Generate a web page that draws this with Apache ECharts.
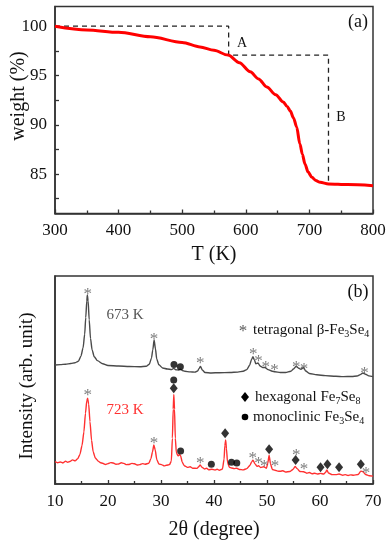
<!DOCTYPE html>
<html>
<head>
<meta charset="utf-8">
<script src="https://cdn.jsdelivr.net/npm/echarts@6/dist/echarts.min.js"></script>
<style>html,body{margin:0;padding:0;background:#fff}#c{width:392px;height:550px}</style>
</head>
<body>
<div id="c"></div>
<script>
// ---------- Panel (a): TGA ----------
const tgaT = [300,350,400,450,500,528,550,572,590,607,620,633,647,659,665,670,675,680,685,689,693,698,704,710,717,730,760,800];
const tgaW = [100.0,99.62,99.38,98.92,98.35,97.9,97.55,97.07,96.3,95.37,94.65,93.84,93.05,92.3,91.85,91.4,90.7,89.77,88.07,87.0,86.03,85.2,84.67,84.35,84.16,84.0,83.93,83.82];
const guideT = [300,573,573,730,730];
const guideW = [100,100,97.07,97.07,84.0];
const tgaXTicks = [300,400,500,600,700,800];
const tgaYLabels = [85,90,95,100];
const tgaYTicks = [82.5,85,87.5,90,92.5,95,97.5,100];

// ---------- Panel (b): XRD ----------
const xrd673Angle = [10,11,12,13,13.8,14.4,14.9,15.3,15.6,15.8,16.0,16.1,16.25,16.45,16.7,17.0,17.4,18.0,19,20,22,24,26,27.2,27.8,28.2,28.45,28.7,28.95,29.2,29.6,30.3,31.2,32.0,32.4,32.8,33.3,33.65,34.0,34.5,35.5,36.4,36.9,37.2,37.45,37.8,38.3,39.5,41,43,44.5,45.5,46.2,46.7,47.1,47.35,47.6,47.9,48.3,48.7,49.2,49.6,50.2,51.0,51.5,52.5,53.5,54.5,55.0,55.5,55.9,56.4,56.9,57.3,58.0,59.4,61,63,64.4,66,67.0,67.6,68.1,68.6,69.2,70];
const xrd673Int   = [57.2,57.4,57.6,57.9,58.3,59.0,61.5,65.5,72,80,88,90.9,88,79,70,64.5,61.2,59.3,57.8,57.0,56.7,56.5,56.4,56.6,57.6,60.5,64.5,69.2,65,60,57.3,55.8,55.3,55.0,55.6,54.9,54.8,55.2,54.6,54.2,53.9,53.8,54.3,55.6,56.5,54.8,53.6,53.4,53.5,53.6,53.8,54.2,55.0,57.0,60.0,61.2,59.8,57.8,58.2,56.7,56.0,56.0,55.0,54.2,54.0,53.6,53.6,54.2,55.3,56.6,55.8,55.2,56.0,54.3,53.1,52.5,52.1,51.8,51.6,51.7,51.9,52.6,53.4,52.8,52.0,51.6];
const xrd723Angle = [10,10.5,11,11.5,12,12.4,12.8,13.3,13.8,14.3,14.7,15.1,15.45,15.75,16.0,16.15,16.35,16.6,16.9,17.2,17.6,18.2,18.6,19,19.5,20,20.5,21,21.5,22,22.5,23,23.5,24,24.5,25,25.5,26,26.5,27,27.7,28.1,28.4,28.65,28.9,29.2,29.6,30.2,30.6,31,31.6,31.95,32.15,32.3,32.42,32.55,32.7,32.9,33.2,33.5,33.7,34.0,34.4,35,35.5,36,36.8,37.1,37.4,37.7,38.2,38.6,39,39.6,40.2,40.6,41.0,41.6,41.9,42.05,42.2,42.35,42.55,42.9,43.3,43.8,44.3,44.8,45.5,46.2,46.8,47.1,47.35,47.7,48.1,48.4,48.8,49.4,49.9,50.15,50.4,50.65,51.0,51.5,52,52.5,53,53.5,54.3,54.9,55.3,55.7,56.2,56.9,57.5,58,58.5,59,59.5,60.1,60.7,61.05,61.3,61.6,62.3,63,63.6,64.3,64.8,65.3,65.8,66.3,67.2,67.7,68.1,68.6,69.3,70];
const xrd723Int   = [10.7,10.2,10.6,10.1,11.0,10.4,10.8,11.6,11.1,12.2,14.2,18.5,25,34,40,41.2,38.5,30,21,15.5,12.5,10.9,10.2,10.0,9.4,9.8,10.3,10.1,9.5,9.6,10.2,9.9,9.3,9.4,9.9,9.7,9.1,9.3,9.8,9.5,10.0,12.2,15.5,18.8,16.5,11.8,9.6,9.2,8.7,9.0,9.3,11.0,22,36,43.0,36,22,15,13.5,14.2,13.6,10.5,8.8,8.0,8.3,7.6,7.5,8.3,9.2,8.1,7.2,7.6,6.8,7.1,6.7,7.1,6.6,7.2,12,18.5,21.2,17,10.5,8.0,7.7,7.4,7.6,7.0,6.8,7.4,9.0,10.6,11.5,9.8,8.5,8.8,7.9,8.3,7.6,10.0,13.9,9.8,7.0,6.6,6.2,6.1,6.4,5.8,6.0,7.0,8.4,7.4,6.0,5.9,5.2,5.5,4.9,5.2,4.8,5.1,4.8,5.6,6.8,5.3,4.5,4.5,4.8,4.2,4.5,4.1,4.4,4.2,4.6,6.2,5.9,4.6,4.0,3.8];

// phase markers (angle, height)
const starAngle = [16.2,28.7,37.4,47.4,48.4,49.75,51.4,55.5,57.0,68.4, 16.2,28.7,37.4,47.3,48.4,49.5,51.5,55.5,57.0,68.7];
const starInt   = [92.5,70.8,59.3,63.6,60.4,57.5,55.9,57.5,56.4,54.5, 43.9,20.8,11.2,13.9,11.2,9.9,9.8,15.0,8.3,6.7];
const dotAngle = [32.45,33.65, 32.4,33.7,39.5,43.3,44.3];
const dotInt   = [57.5,56.4, 50.0,15.9,9.5,10.4,10.1];
const diamondAngle = [32.4,42.1,50.4,55.4,60.1,61.4,63.6,67.7];
const diamondInt   = [46.0,24.4,16.7,11.5,8.0,9.5,8.0,9.5];
const xrdXTicks = [10,20,30,40,50,60,70];

const FONT = "'Liberation Serif','Times New Roman',serif";
const zip = (a,b) => a.map((v,i)=>[v,b[i]]);

const axisLineStyle = {lineStyle:{color:'#333',width:1.5}};
const chart = echarts.init(document.getElementById('c'));

function txt(x,y,text,size,color,extra){
  return Object.assign({type:'text',x:x,y:y,style:{text:text,fill:color||'#111',font:size+'px '+FONT,align:'center',verticalAlign:'middle'}},extra||{});
}
function richTxt(x,y,text){
  return {type:'text',x:x,y:y,style:{text:text,align:'left',verticalAlign:'middle',fill:'#111',
    rich:{n:{fontSize:15,fontFamily:FONT,fill:'#111',lineHeight:18},s:{fontSize:10,fontFamily:FONT,fill:'#111',verticalAlign:'bottom'}}}};
}

chart.setOption({
  animation:false,
  backgroundColor:'#fff',
  grid:[
    {left:55,top:6.5,width:318,height:207,show:true,borderColor:'#333',borderWidth:1.5,backgroundColor:'transparent'},
    {left:55,top:276,width:318,height:208,show:true,borderColor:'#333',borderWidth:1.5,backgroundColor:'transparent'}
  ],
  xAxis:[
    {type:'value',gridIndex:0,min:tgaXTicks[0],max:tgaXTicks[tgaXTicks.length-1],interval:100,
     axisLine:axisLineStyle,axisTick:{inside:true,length:4,lineStyle:{color:'#333',width:1.3}},
     minorTick:{show:true,splitNumber:2,length:3,lineStyle:{color:'#333',width:1.3}},
     splitLine:{show:false},axisLabel:{fontSize:17,fontFamily:FONT,color:'#111',margin:9}},
    {type:'value',gridIndex:1,min:xrdXTicks[0],max:xrdXTicks[xrdXTicks.length-1],interval:10,
     axisLine:axisLineStyle,axisTick:{inside:true,length:4,lineStyle:{color:'#333',width:1.3}},
     minorTick:{show:true,splitNumber:2,length:3,lineStyle:{color:'#333',width:1.3}},
     splitLine:{show:false},axisLabel:{fontSize:17,fontFamily:FONT,color:'#111',margin:9}}
  ],
  yAxis:[
    {type:'value',gridIndex:0,min:81,max:102,
     axisLine:{show:true,lineStyle:{color:'#333',width:1.5}},
     axisTick:{show:true,inside:true,length:4,customValues:tgaYTicks,lineStyle:{color:'#333',width:1.3}},
     axisLabel:{customValues:tgaYLabels,fontSize:17,fontFamily:FONT,color:'#111',margin:8},
     splitLine:{show:false}},
    {type:'value',gridIndex:1,min:0,max:100,
     axisLine:{show:true,lineStyle:{color:'#333',width:1.5}},
     axisTick:{show:false},axisLabel:{show:false},splitLine:{show:false}}
  ],
  series:[
    {type:'line',xAxisIndex:0,yAxisIndex:0,data:zip(guideT,guideW),symbol:'none',
     lineStyle:{color:'#222',width:1.3,type:[5,4]},z:2},
    {type:'line',xAxisIndex:0,yAxisIndex:0,data:zip(tgaT,tgaW),symbol:'none',smooth:0.3,smoothMonotone:'x',
     lineStyle:{color:'#ff0000',width:3},z:3},
    {type:'line',xAxisIndex:1,yAxisIndex:1,data:zip(xrd673Angle,xrd673Int),symbol:'none',smooth:0.25,smoothMonotone:'x',
     lineStyle:{color:'#4a4a4a',width:1.4}},
    {type:'line',xAxisIndex:1,yAxisIndex:1,data:zip(xrd723Angle,xrd723Int),symbol:'none',smooth:0.2,smoothMonotone:'x',
     lineStyle:{color:'#ff3030',width:1.4}},
    {type:'scatter',xAxisIndex:1,yAxisIndex:1,data:zip(starAngle,starInt),symbol:'circle',symbolSize:1,
     itemStyle:{color:'rgba(0,0,0,0)'},
     label:{show:true,position:'inside',formatter:'*',color:'#5a5a5a',fontSize:17,fontFamily:FONT,offset:[0,3]},z:5},
    {type:'scatter',xAxisIndex:1,yAxisIndex:1,data:zip(dotAngle,dotInt),symbol:'circle',symbolSize:7,
     itemStyle:{color:'#000'},z:5},
    {type:'scatter',xAxisIndex:1,yAxisIndex:1,data:zip(diamondAngle,diamondInt),symbol:'diamond',symbolSize:[8,10],
     itemStyle:{color:'#000'},z:5}
  ],
  graphic:[
    txt(358,22,'(a)',18),
    txt(358,292,'(b)',18),
    txt(242,43,'A',14),
    txt(341,117,'B',14),
    txt(214,255,'T (K)',20),
    txt(214,530,'2θ (degree)',20),
    txt(19,96,'weight (%)',20,'#111',{rotation:Math.PI/2}),
    txt(27,386,'Intensity (arb. unit)',19,'#111',{rotation:Math.PI/2}),
    txt(125,315,'673 K',15,'#555'),
    txt(125,410,'723 K',15,'#ff3030'),
    txt(243,332,'*',17,'#5a5a5a'),
    richTxt(253,330,'{n|tetragonal β-Fe}{s|3}{n|Se}{s|4}'),
    {type:'polygon',shape:{points:[[245,392],[249,397],[245,402],[241,397]]},style:{fill:'#000'}},
    richTxt(255,397,'{n|hexagonal Fe}{s|7}{n|Se}{s|8}'),
    {type:'circle',shape:{cx:245,cy:417,r:3.3},style:{fill:'#000'}},
    richTxt(253,417,'{n|monoclinic Fe}{s|3}{n|Se}{s|4}')
  ]
});
</script>
</body>
</html>
